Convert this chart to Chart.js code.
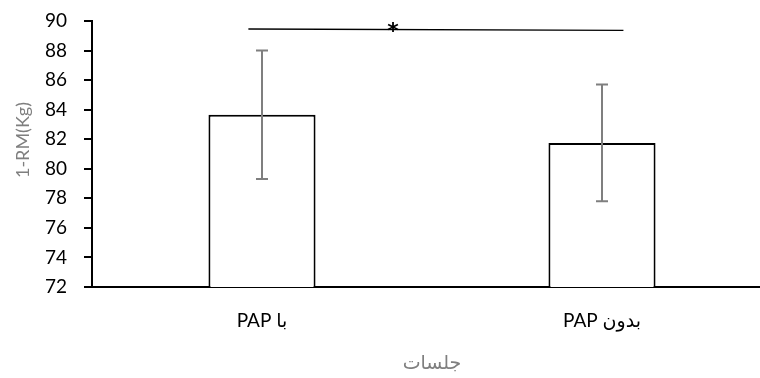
<!DOCTYPE html>
<html><head><meta charset="utf-8">
<script src="https://cdn.jsdelivr.net/npm/chart.js@4/dist/chart.umd.min.js"></script>
<style>
html,body{margin:0;padding:0;background:#fff;overflow:hidden}
#wrap{width:760px;height:378px;overflow:hidden;position:relative;background:#fff}
canvas{display:block}
</style></head><body>
<div id="wrap"><canvas id="c" width="800" height="378" dir="rtl"></canvas></div>
<script>
// ---- data ----
const categories = ['با PAP', 'بدون PAP'];
const means = [83.65, 81.75];
const errors = [4.35, 3.95];
const yMin = 72, yMax = 90, yStep = 2;
const sigLineX = [-0.04, 1.063];
const sigLineY = [89.46, 89.37];
const sigStarPos = [0.385, 88.86];
const sigStarText = '*';
const xTitle = 'جلسات';
const yTitle = '1-RM(Kg)';

const FONT = "Lato, 'DejaVu Sans', sans-serif";

const overlay = {
  id: 'overlay',
  afterDatasetsDraw(chart) {
    const {ctx, scales: {x, y}} = chart;
    const meta = chart.getDatasetMeta(0);
    ctx.save();
    ctx.strokeStyle = '#7f7f7f';
    ctx.lineWidth = 2;
    means.forEach((m, i) => {
      const px = meta.data[i].x;
      const yt = y.getPixelForValue(m + errors[i]);
      const yb = y.getPixelForValue(m - errors[i]);
      ctx.beginPath();
      ctx.moveTo(px, yt); ctx.lineTo(px, yb);
      ctx.moveTo(px - 6, yt); ctx.lineTo(px + 6, yt);
      ctx.moveTo(px - 6, yb); ctx.lineTo(px + 6, yb);
      ctx.stroke();
    });
    // significance line
    ctx.strokeStyle = '#000';
    ctx.lineWidth = 1.3;
    ctx.beginPath();
    ctx.moveTo(x.getPixelForValue(sigLineX[0]), y.getPixelForValue(sigLineY[0]));
    ctx.lineTo(x.getPixelForValue(sigLineX[1]), y.getPixelForValue(sigLineY[1]));
    ctx.stroke();
    ctx.fillStyle = '#000';
    ctx.font = "bold 22px 'DejaVu Sans', sans-serif";
    ctx.textAlign = 'center';
    ctx.textBaseline = 'alphabetic';
    ctx.fillText(sigStarText, x.getPixelForValue(sigStarPos[0]), y.getPixelForValue(sigStarPos[1]));
    ctx.restore();
  },
  afterDraw(chart) {
    const {ctx, chartArea: ca} = chart;
    ctx.save();
    ctx.direction = 'ltr';
    ctx.fillStyle = '#7f7f7f';
    ctx.font = "18px " + FONT;
    ctx.textAlign = 'center';
    ctx.textBaseline = 'middle';
    ctx.translate(23, (ca.top + ca.bottom) / 2 - 14);
    ctx.rotate(-Math.PI / 2);
    ctx.fillText(yTitle, 0, 0);
    ctx.restore();
  }
};

new Chart(document.getElementById('c'), {
  type: 'bar',
  data: {
    labels: categories,
    datasets: [{
      data: means,
      backgroundColor: '#ffffff',
      borderColor: '#000000',
      borderWidth: 2,
      barPercentage: 0.315,
      categoryPercentage: 1.0
    }]
  },
  options: {
    responsive: false,
    animation: false,
    layout: {padding: {top: 21, right: 28, left: 0, bottom: 0}},
    plugins: {legend: {display: false}, tooltip: {enabled: false}},
    scales: {
      x: {
        grid: {display: false, drawTicks: false},
        border: {display: true, color: '#000', width: 2},
        ticks: {color: '#000', font: {family: FONT, size: 19}, padding: 22},
        title: {display: true, text: xTitle, color: '#7f7f7f', font: {family: FONT, size: 19}, padding: {top: 0, bottom: 4}},
        afterFit(s) { s.height = 91; s.paddingLeft = 0; s.paddingRight = 0; }
      },
      y: {
        min: yMin, max: yMax,
        grid: {drawOnChartArea: false, drawTicks: true, tickLength: 8, color: '#000', lineWidth: 2},
        border: {display: true, color: '#000', width: 2},
        ticks: {stepSize: yStep, color: '#000', font: {family: FONT, size: 19}, padding: 17},
        afterFit(s) { s.width = 92; s.paddingTop = 0; s.paddingBottom = 0; }
      }
    }
  },
  plugins: [overlay]
});
</script>
</body></html>
